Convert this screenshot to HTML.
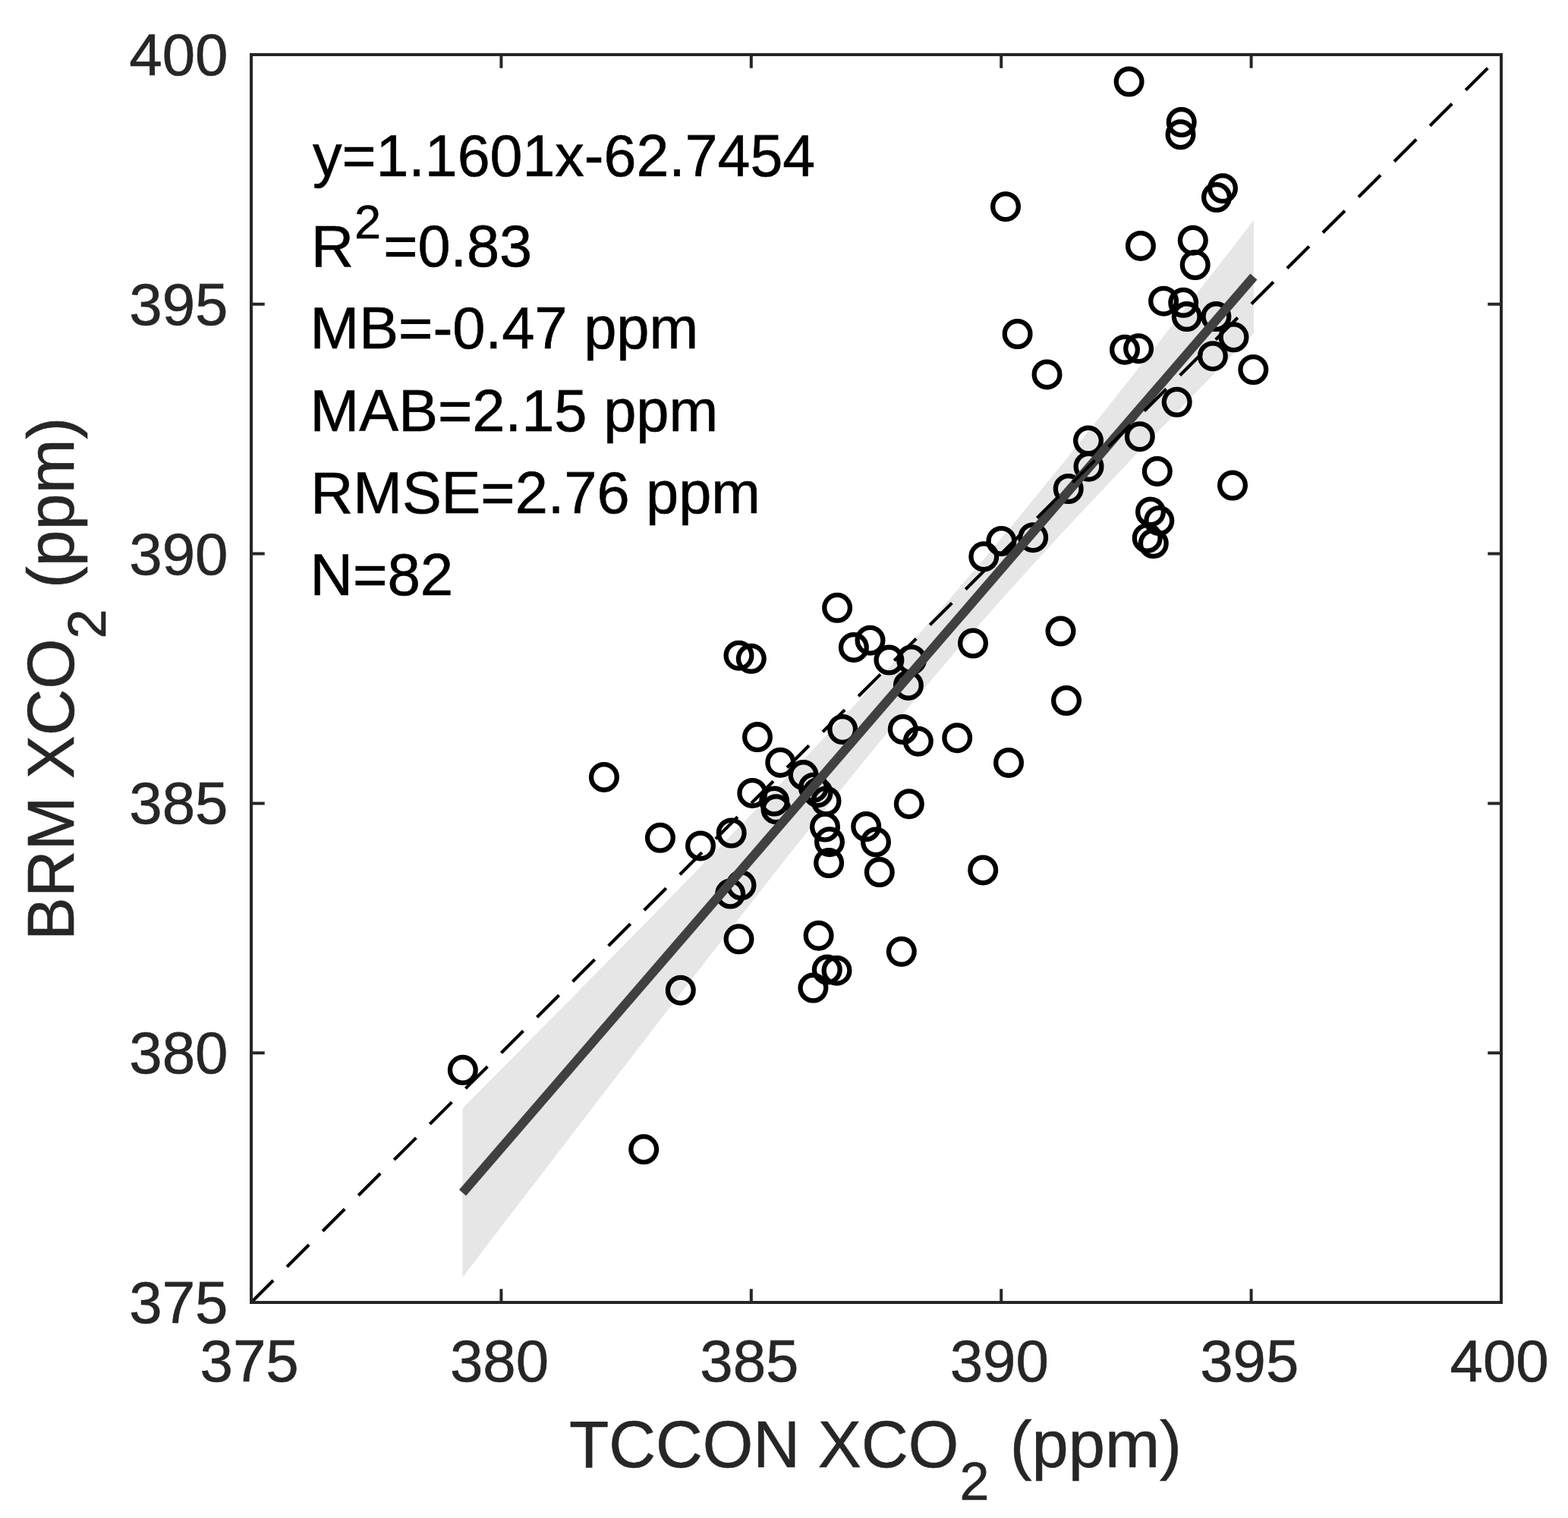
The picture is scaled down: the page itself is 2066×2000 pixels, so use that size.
<!DOCTYPE html>
<html><head><meta charset="utf-8"><title>BRM vs TCCON XCO2</title>
<style>html,body{margin:0;padding:0;background:#fff;overflow:hidden;}svg{display:block;}</style>
</head><body>
<svg width="2066" height="2000" viewBox="0 0 2066 2000">
<rect x="0" y="0" width="2066" height="2000" fill="#ffffff"/>
<polygon points="609.5,1460.2 627.2,1442.4 644.9,1424.6 662.5,1406.7 680.2,1388.9 697.9,1371.1 715.5,1353.2 733.2,1335.3 750.9,1317.4 768.5,1299.5 786.2,1281.6 803.9,1263.6 821.5,1245.7 839.2,1227.7 856.9,1209.7 874.5,1191.6 892.2,1173.5 909.9,1155.4 927.5,1137.3 945.2,1119.1 962.9,1100.8 980.5,1082.5 998.2,1064.2 1015.9,1045.7 1033.5,1027.2 1051.2,1008.7 1068.9,990.0 1086.5,971.2 1104.2,952.3 1121.9,933.3 1139.6,914.2 1157.2,894.9 1174.9,875.4 1192.6,855.8 1210.2,836.0 1227.9,816.0 1245.6,795.8 1263.2,775.3 1280.9,754.7 1298.6,733.9 1316.2,712.9 1333.9,691.7 1351.6,670.3 1369.2,648.7 1386.9,627.0 1404.6,605.2 1422.2,583.2 1439.9,561.1 1457.6,538.9 1475.2,516.6 1492.9,494.2 1510.6,471.8 1528.2,449.2 1545.9,426.6 1563.6,404.0 1581.2,381.3 1598.9,358.5 1616.6,335.7 1634.2,312.9 1651.9,290.1 1651.9,438.9 1634.2,457.0 1616.6,475.1 1598.9,493.2 1581.2,511.4 1563.6,529.6 1545.9,547.9 1528.2,566.2 1510.6,584.6 1492.9,603.0 1475.2,621.6 1457.6,640.2 1439.9,658.9 1422.2,677.7 1404.6,696.6 1386.9,715.7 1369.2,734.9 1351.6,754.3 1333.9,773.8 1316.2,793.5 1298.6,813.4 1280.9,833.5 1263.2,853.8 1245.6,874.3 1227.9,895.0 1210.2,915.9 1192.6,937.0 1174.9,958.3 1157.2,979.8 1139.6,1001.4 1121.9,1023.2 1104.2,1045.1 1086.5,1067.1 1068.9,1089.2 1051.2,1111.5 1033.5,1133.8 1015.9,1156.2 998.2,1178.7 980.5,1201.3 962.9,1223.9 945.2,1246.6 927.5,1269.3 909.9,1292.1 892.2,1314.9 874.5,1337.7 856.9,1360.6 839.2,1383.5 821.5,1406.4 803.9,1429.3 786.2,1452.3 768.5,1475.3 750.9,1498.3 733.2,1521.3 715.5,1544.4 697.9,1567.4 680.2,1590.5 662.5,1613.6 644.9,1636.6 627.2,1659.7 609.5,1682.9" fill="#e6e6e6" stroke="none"/>
<g fill="none" stroke="#000" stroke-width="6.3">
<circle cx="1487.6" cy="107.6" r="16.85"/>
<circle cx="1556.7" cy="161.0" r="16.85"/>
<circle cx="1555.5" cy="177.3" r="16.85"/>
<circle cx="1611.0" cy="248.2" r="16.85"/>
<circle cx="1603.0" cy="260.0" r="16.85"/>
<circle cx="1325.0" cy="272.2" r="16.85"/>
<circle cx="1571.8" cy="316.7" r="16.85"/>
<circle cx="1502.9" cy="323.9" r="16.85"/>
<circle cx="1574.7" cy="349.0" r="16.85"/>
<circle cx="1533.1" cy="396.7" r="16.85"/>
<circle cx="1559.2" cy="398.8" r="16.85"/>
<circle cx="1563.7" cy="417.1" r="16.85"/>
<circle cx="1602.4" cy="417.1" r="16.85"/>
<circle cx="1625.5" cy="444.3" r="16.85"/>
<circle cx="1340.6" cy="440.0" r="16.85"/>
<circle cx="1482.0" cy="460.7" r="16.85"/>
<circle cx="1500.1" cy="459.2" r="16.85"/>
<circle cx="1597.9" cy="469.2" r="16.85"/>
<circle cx="1379.5" cy="493.4" r="16.85"/>
<circle cx="1651.3" cy="487.0" r="16.85"/>
<circle cx="1550.7" cy="529.8" r="16.85"/>
<circle cx="1434.0" cy="580.6" r="16.85"/>
<circle cx="1501.8" cy="575.2" r="16.85"/>
<circle cx="1434.5" cy="614.7" r="16.85"/>
<circle cx="1524.8" cy="620.9" r="16.85"/>
<circle cx="1407.7" cy="644.0" r="16.85"/>
<circle cx="1624.0" cy="639.5" r="16.85"/>
<circle cx="1516.0" cy="674.4" r="16.85"/>
<circle cx="1527.3" cy="686.0" r="16.85"/>
<circle cx="1511.7" cy="708.9" r="16.85"/>
<circle cx="1519.8" cy="716.0" r="16.85"/>
<circle cx="1319.4" cy="712.9" r="16.85"/>
<circle cx="1296.3" cy="733.3" r="16.85"/>
<circle cx="1361.2" cy="708.2" r="16.85"/>
<circle cx="1103.1" cy="800.8" r="16.85"/>
<circle cx="1397.5" cy="831.6" r="16.85"/>
<circle cx="1282.0" cy="847.5" r="16.85"/>
<circle cx="1124.9" cy="852.9" r="16.85"/>
<circle cx="1146.5" cy="843.7" r="16.85"/>
<circle cx="1171.4" cy="869.6" r="16.85"/>
<circle cx="1201.0" cy="869.2" r="16.85"/>
<circle cx="973.5" cy="863.7" r="16.85"/>
<circle cx="989.8" cy="867.8" r="16.85"/>
<circle cx="1196.9" cy="902.9" r="16.85"/>
<circle cx="1405.0" cy="923.0" r="16.85"/>
<circle cx="998.0" cy="971.1" r="16.85"/>
<circle cx="1110.2" cy="961.0" r="16.85"/>
<circle cx="1189.8" cy="961.0" r="16.85"/>
<circle cx="1209.8" cy="976.7" r="16.85"/>
<circle cx="1261.2" cy="972.2" r="16.85"/>
<circle cx="1028.3" cy="1004.7" r="16.85"/>
<circle cx="1329.0" cy="1004.9" r="16.85"/>
<circle cx="795.9" cy="1023.9" r="16.85"/>
<circle cx="1058.6" cy="1021.1" r="16.85"/>
<circle cx="991.3" cy="1044.9" r="16.85"/>
<circle cx="1077.5" cy="1044.2" r="16.85"/>
<circle cx="1020.2" cy="1055.6" r="16.85"/>
<circle cx="1022.5" cy="1066.3" r="16.85"/>
<circle cx="1088.5" cy="1055.5" r="16.85"/>
<circle cx="1197.8" cy="1059.2" r="16.85"/>
<circle cx="1087.0" cy="1089.5" r="16.85"/>
<circle cx="1141.2" cy="1089.0" r="16.85"/>
<circle cx="963.7" cy="1097.5" r="16.85"/>
<circle cx="869.9" cy="1103.8" r="16.85"/>
<circle cx="923.0" cy="1114.4" r="16.85"/>
<circle cx="1093.0" cy="1109.2" r="16.85"/>
<circle cx="1154.0" cy="1109.4" r="16.85"/>
<circle cx="1092.1" cy="1137.0" r="16.85"/>
<circle cx="1158.8" cy="1149.1" r="16.85"/>
<circle cx="1295.2" cy="1146.4" r="16.85"/>
<circle cx="962.2" cy="1177.6" r="16.85"/>
<circle cx="976.5" cy="1166.3" r="16.85"/>
<circle cx="973.5" cy="1237.3" r="16.85"/>
<circle cx="1078.6" cy="1232.7" r="16.85"/>
<circle cx="1187.8" cy="1253.8" r="16.85"/>
<circle cx="1089.8" cy="1277.6" r="16.85"/>
<circle cx="1102.5" cy="1278.7" r="16.85"/>
<circle cx="1071.4" cy="1301.6" r="16.85"/>
<circle cx="896.8" cy="1304.7" r="16.85"/>
<circle cx="609.8" cy="1409.8" r="16.85"/>
<circle cx="848.2" cy="1514.3" r="16.85"/>
<circle cx="1071.9" cy="1037.7" r="16.85"/>
</g>
<line x1="609.5" y1="1571.5" x2="1651.9" y2="364.5" stroke="#404040" stroke-width="12" stroke-linecap="butt"/>
<line x1="331.0" y1="1716.0" x2="1978.0" y2="72.0" stroke="#000" stroke-width="4.2" stroke-dasharray="41 25.5"/>
<rect x="331.0" y="72.0" width="1647.0" height="1644.0" fill="none" stroke="#262626" stroke-width="4"/>
<path d="M660.4,1716.0V1698.3M660.4,72.0V89.7M331.0,1387.2H348.7M1978.0,1387.2H1960.3M989.8,1716.0V1698.3M989.8,72.0V89.7M331.0,1058.4H348.7M1978.0,1058.4H1960.3M1319.2,1716.0V1698.3M1319.2,72.0V89.7M331.0,729.6H348.7M1978.0,729.6H1960.3M1648.6,1716.0V1698.3M1648.6,72.0V89.7M331.0,400.8H348.7M1978.0,400.8H1960.3" stroke="#262626" stroke-width="4" fill="none"/>
<g font-family="Liberation Sans, Arial, Helvetica, sans-serif" font-size="78" fill="#262626" stroke="#262626" stroke-width="0.6">
<text x="328.6" y="1819.6" text-anchor="middle">375</text>
<text x="658.0" y="1819.6" text-anchor="middle">380</text>
<text x="987.4" y="1819.6" text-anchor="middle">385</text>
<text x="1316.8" y="1819.6" text-anchor="middle">390</text>
<text x="1646.2" y="1819.6" text-anchor="middle">395</text>
<text x="1975.6" y="1819.6" text-anchor="middle">400</text>
<text x="300.5" y="1742.9" text-anchor="end">375</text>
<text x="300.5" y="1414.1" text-anchor="end">380</text>
<text x="300.5" y="1085.3" text-anchor="end">385</text>
<text x="300.5" y="756.5" text-anchor="end">390</text>
<text x="300.5" y="427.7" text-anchor="end">395</text>
<text x="300.5" y="98.9" text-anchor="end">400</text>
</g>
<g font-family="Liberation Sans, Arial, Helvetica, sans-serif" font-size="78" fill="#000" stroke="#000" stroke-width="0.6">
<text x="411.9" y="231.9" textLength="662.3" lengthAdjust="spacingAndGlyphs">y=1.1601x-62.7454</text>
<text x="409.7" y="351.2">R</text>
<text x="466.9" y="314.4" font-size="63">2</text>
<text x="505.2" y="351.2" textLength="195.9" lengthAdjust="spacingAndGlyphs">=0.83</text>
<text x="408.6" y="459.1" textLength="511.69" lengthAdjust="spacingAndGlyphs">MB=-0.47 ppm</text>
<text x="408.6" y="568.0" textLength="537.7" lengthAdjust="spacingAndGlyphs">MAB=2.15 ppm</text>
<text x="409.3" y="675.8" textLength="592.67" lengthAdjust="spacingAndGlyphs">RMSE=2.76 ppm</text>
<text x="408.6" y="784.1">N=82</text>
</g>
<g font-family="Liberation Sans, Arial, Helvetica, sans-serif" fill="#262626" stroke="#262626" stroke-width="0.6">
<text x="750.0" y="1933.4" font-size="87.5" textLength="513.2" lengthAdjust="spacingAndGlyphs">TCCON XCO</text>
<text x="1264.6" y="1976.2" font-size="70">2</text>
<text x="1330.7" y="1933.4" font-size="87.5" textLength="226.3" lengthAdjust="spacingAndGlyphs">(ppm)</text>
<g transform="translate(97,0) rotate(-90)">
<text x="-1238.9" y="0" font-size="87.5" textLength="397.5" lengthAdjust="spacingAndGlyphs">BRM XCO</text>
<text x="-841.4" y="42.1" font-size="70">2</text>
<text x="-774.9" y="0" font-size="87.5" textLength="225.1" lengthAdjust="spacingAndGlyphs">(ppm)</text>
</g></g>
</svg>
</body></html>
